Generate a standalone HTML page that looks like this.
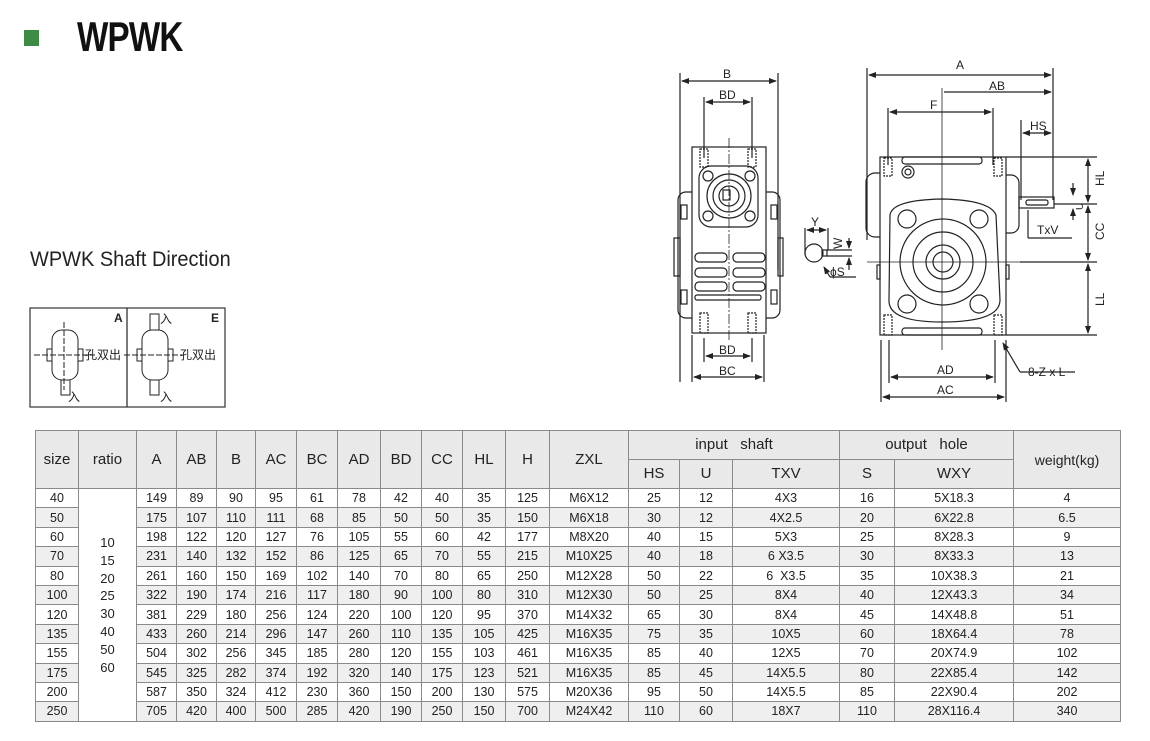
<!DOCTYPE html>
<html><head><meta charset="utf-8"><style>
body{margin:0;background:#fff;width:1150px;height:741px;position:relative;overflow:hidden;font-family:"Liberation Sans","Noto Sans CJK SC",sans-serif;color:#222}
.abs{position:absolute}
table{border-collapse:collapse;position:absolute;left:35px;top:430px;table-layout:fixed}
td{border:1px solid #8a8a8a;text-align:center;font-size:12.5px;padding:0;height:18.4px;line-height:14px;overflow:hidden;white-space:nowrap}
tr.h td{background:#e9e9e9;font-size:15px;height:28px}
tr.g td{background:#efefef}
td.r{background:#fff!important;position:relative;vertical-align:top}
</style></head><body>
<div class="abs" style="left:24px;top:30px;width:15px;height:16px;background:#3f8a45"></div>
<div class="abs" style="left:77px;top:13px;font-size:42px;font-weight:bold;letter-spacing:-1px;transform:scaleX(0.79);transform-origin:left;color:#111">WPWK</div>
<div class="abs" style="left:30px;top:248px;font-size:21px;color:#222;transform:scaleX(0.95);transform-origin:left">WPWK Shaft Direction</div>

<svg class="abs" style="left:0;top:0" width="1150" height="425" viewBox="0 0 1150 425" font-family="Liberation Sans" font-size="11" fill="none" stroke="#222" stroke-width="1.2">
<defs><marker id="a" markerWidth="8" markerHeight="6" refX="7" refY="3" orient="auto-start-reverse" markerUnits="userSpaceOnUse"><path d="M0,0L8,3L0,6z" fill="#222" stroke="none"/></marker></defs>
<rect x="30" y="308" width="195" height="99" stroke="#333"/>
<line x1="127" y1="308" x2="127" y2="407"/>
<g stroke-width="1">
<rect x="52" y="330" width="26" height="50" rx="10"/><rect x="47" y="349" width="5" height="12"/><rect x="78" y="349" width="5" height="12"/>
<rect x="61" y="380" width="9" height="15"/>
<line x1="64" y1="322" x2="64" y2="390" stroke-dasharray="6,2"/><line x1="34" y1="355" x2="95" y2="355" stroke-dasharray="6,2"/>
<rect x="142" y="330" width="26" height="50" rx="10"/><rect x="137" y="349" width="5" height="12"/><rect x="168" y="349" width="5" height="12"/>
<rect x="150" y="314" width="9" height="16"/><rect x="150" y="380" width="9" height="15"/>
<line x1="124" y1="355" x2="183" y2="355" stroke-dasharray="6,2"/>
</g>
<g fill="#222" stroke="none" font-size="12">
<text x="114" y="322" font-weight="bold" font-size="12">A</text><text x="211" y="322" font-weight="bold" font-size="12">E</text>
<text x="85" y="359" font-family="Noto Sans CJK SC">孔双出</text><text x="180" y="359" font-family="Noto Sans CJK SC">孔双出</text>
<text x="68" y="401" font-family="Noto Sans CJK SC">入</text><text x="160" y="323" font-family="Noto Sans CJK SC">入</text><text x="160" y="401" font-family="Noto Sans CJK SC">入</text>
</g>

<g>
<line x1="680" y1="73" x2="680" y2="382"/><line x1="778" y1="73" x2="778" y2="270"/>
<line x1="682" y1="81" x2="776" y2="81" marker-start="url(#a)" marker-end="url(#a)"/>
<line x1="704" y1="97" x2="704" y2="158"/><line x1="752" y1="97" x2="752" y2="158"/>
<line x1="706" y1="102" x2="750" y2="102" marker-start="url(#a)" marker-end="url(#a)"/>
<rect x="692" y="147" width="74" height="186"/>
<path d="M692,192 h-6 a8,8 0 0 0 -8,8 v110 a8,8 0 0 0 8,8 h6"/>
<path d="M766,192 h6 a8,8 0 0 1 8,8 v110 a8,8 0 0 1 -8,8 h-6"/>
<rect x="674" y="238" width="6" height="38"/><rect x="778" y="238" width="5" height="38"/>
<rect x="681" y="205" width="6" height="14"/><rect x="771" y="205" width="6" height="14"/>
<rect x="681" y="290" width="6" height="14"/><rect x="771" y="290" width="6" height="14"/>
<rect x="699" y="166" width="59" height="61" rx="12"/>
<circle cx="729" cy="196" r="22"/><circle cx="729" cy="196" r="16"/><circle cx="729" cy="196" r="10"/>
<rect x="723" y="190" width="7" height="10"/>
<circle cx="708" cy="176" r="5"/><circle cx="750" cy="176" r="5"/><circle cx="708" cy="216" r="5"/><circle cx="750" cy="216" r="5"/>
<rect x="695" y="253" width="32" height="9" rx="4"/><rect x="733" y="253" width="32" height="9" rx="4"/>
<rect x="695" y="268" width="32" height="9" rx="4"/><rect x="733" y="268" width="32" height="9" rx="4"/>
<rect x="695" y="282" width="32" height="9" rx="4"/><rect x="733" y="282" width="32" height="9" rx="4"/>
<rect x="695" y="295" width="66" height="5" rx="2"/>
<g stroke-dasharray="2,1"><rect x="700" y="149" width="8" height="18"/><rect x="748" y="149" width="8" height="18"/>
<rect x="700" y="313" width="8" height="20"/><rect x="748" y="313" width="8" height="20"/></g>
<line x1="729" y1="138" x2="729" y2="342" stroke-dasharray="10,2,2,2" stroke-width="0.8"/>
<line x1="704" y1="338" x2="704" y2="362"/><line x1="752" y1="338" x2="752" y2="362"/>
<line x1="706" y1="356" x2="750" y2="356" marker-start="url(#a)" marker-end="url(#a)"/>
<line x1="692" y1="335" x2="692" y2="382"/><line x1="764" y1="335" x2="764" y2="382"/>
<line x1="694" y1="377" x2="762" y2="377" marker-start="url(#a)" marker-end="url(#a)"/>
</g>
<g>
<circle cx="814" cy="253" r="9"/><rect x="822" y="250" width="5" height="6"/>
<line x1="805" y1="228" x2="805" y2="255"/><line x1="828" y1="228" x2="828" y2="250"/>
<line x1="807" y1="230" x2="826" y2="230" marker-start="url(#a)" marker-end="url(#a)"/>
<line x1="826" y1="250" x2="852" y2="250"/><line x1="826" y1="256" x2="852" y2="256"/>
<line x1="849" y1="238" x2="849" y2="248" marker-end="url(#a)"/><line x1="849" y1="270" x2="849" y2="258" marker-end="url(#a)"/>
<line x1="830" y1="277" x2="824" y2="267" marker-end="url(#a)"/><line x1="830" y1="277" x2="856" y2="277"/>
</g>
<g>
<line x1="867" y1="68" x2="867" y2="240"/><line x1="1053" y1="68" x2="1053" y2="200"/>
<line x1="869" y1="75" x2="1051" y2="75" marker-start="url(#a)" marker-end="url(#a)"/>
<line x1="944" y1="92" x2="1051" y2="92" marker-end="url(#a)"/>
<line x1="888" y1="108" x2="888" y2="165"/><line x1="993" y1="108" x2="993" y2="165"/>
<line x1="890" y1="112" x2="991" y2="112" marker-start="url(#a)" marker-end="url(#a)"/>
<line x1="1021" y1="120" x2="1021" y2="200"/>
<line x1="1023" y1="133" x2="1051" y2="133" marker-start="url(#a)" marker-end="url(#a)"/>
<rect x="880" y="157" width="126" height="178"/>
<path d="M880,173 h-5 a9,9 0 0 0 -9,9 v46 a9,9 0 0 0 9,9 h5"/>
<path d="M1006,175 h5 a8,8 0 0 1 8,8 v42 a8,8 0 0 1 -8,8 h-5"/>
<rect x="1019" y="197" width="35" height="11"/><rect x="1026" y="200" width="22" height="5" rx="2"/>
<rect x="902" y="157" width="80" height="7" rx="3"/><rect x="902" y="328" width="80" height="7" rx="3"/>
<circle cx="908" cy="172" r="6"/><circle cx="908" cy="172" r="3"/>
<path d="M890,215 Q892,200 942,199 Q990,200 996,215 L1000,300 Q1000,322 942,322 Q888,322 889,300 Z"/>
<circle cx="943" cy="262" r="43"/><circle cx="943" cy="262" r="30"/><circle cx="943" cy="262" r="17"/><circle cx="943" cy="262" r="10"/>
<circle cx="907" cy="219" r="9"/><circle cx="979" cy="219" r="9"/><circle cx="907" cy="304" r="9"/><circle cx="979" cy="304" r="9"/>
<rect x="877" y="265" width="3" height="14"/><rect x="1006" y="265" width="3" height="14"/>
<g stroke-dasharray="2,1"><rect x="884" y="158" width="8" height="18"/><rect x="994" y="158" width="8" height="18"/>
<rect x="884" y="315" width="8" height="20"/><rect x="994" y="315" width="8" height="20"/></g>
<line x1="942" y1="88" x2="942" y2="350" stroke-width="0.8"/>
<line x1="867" y1="262" x2="1020" y2="262" stroke-width="0.8"/>
<line x1="1006" y1="157" x2="1097" y2="157"/><line x1="1054" y1="204" x2="1097" y2="204"/>
<line x1="1020" y1="262" x2="1097" y2="262"/><line x1="1006" y1="335" x2="1097" y2="335"/>
<line x1="1088" y1="159" x2="1088" y2="202" marker-start="url(#a)" marker-end="url(#a)"/>
<line x1="1088" y1="206" x2="1088" y2="260" marker-start="url(#a)" marker-end="url(#a)"/>
<line x1="1088" y1="264" x2="1088" y2="333" marker-start="url(#a)" marker-end="url(#a)"/>
<line x1="1073" y1="183" x2="1073" y2="195" marker-end="url(#a)"/><line x1="1073" y1="220" x2="1073" y2="209" marker-end="url(#a)"/>
<line x1="1028" y1="210" x2="1028" y2="238"/><line x1="1028" y1="238" x2="1072" y2="238"/>
<line x1="889" y1="340" x2="889" y2="383"/><line x1="995" y1="340" x2="995" y2="383"/>
<line x1="881" y1="340" x2="881" y2="402"/><line x1="1006" y1="340" x2="1006" y2="402"/>
<line x1="891" y1="377" x2="993" y2="377" marker-start="url(#a)" marker-end="url(#a)"/>
<line x1="883" y1="397" x2="1004" y2="397" marker-start="url(#a)" marker-end="url(#a)"/>
<line x1="1020" y1="372" x2="1003" y2="343" marker-end="url(#a)"/><line x1="1020" y1="372" x2="1075" y2="372"/>
</g>
<g fill="#222" stroke="none" font-size="12">
<text x="723" y="78">B</text><text x="719" y="99">BD</text><text x="719" y="354">BD</text><text x="719" y="375">BC</text>
<text x="811" y="226">Y</text><text x="832" y="247" transform="rotate(-90 838 243)">W</text><text x="830" y="276">ϕS</text>
<text x="956" y="69">A</text><text x="989" y="90">AB</text><text x="930" y="109">F</text><text x="1030" y="130">HS</text>
<text x="1037" y="234">TxV</text><text x="937" y="374">AD</text><text x="937" y="394">AC</text>
<text x="1028" y="376">8-Z x L</text>
<text transform="translate(1104,186) rotate(-90)">HL</text>
<text transform="translate(1104,240) rotate(-90)">CC</text>
<text transform="translate(1104,306) rotate(-90)">LL</text>
<text transform="translate(1083,210) rotate(-90)" font-size="10">U</text>
</g>
</svg>

<table>
<colgroup><col style="width:43px"><col style="width:58px"><col style="width:40px"><col style="width:40px"><col style="width:39px"><col style="width:41px"><col style="width:41px"><col style="width:43px"><col style="width:41px"><col style="width:41px"><col style="width:43px"><col style="width:44px"><col style="width:79px"><col style="width:51px"><col style="width:53px"><col style="width:107px"><col style="width:55px"><col style="width:119px"><col style="width:107px"></colgroup>
<tr class="h"><td rowspan="2">size</td><td rowspan="2">ratio</td><td rowspan="2">A</td><td rowspan="2">AB</td><td rowspan="2">B</td><td rowspan="2">AC</td><td rowspan="2">BC</td><td rowspan="2">AD</td><td rowspan="2">BD</td><td rowspan="2">CC</td><td rowspan="2">HL</td><td rowspan="2">H</td><td rowspan="2">ZXL</td><td colspan="3">input&nbsp;&nbsp; shaft</td><td colspan="2">output&nbsp;&nbsp; hole</td><td rowspan="2" style="font-size:14px">weight(kg)</td></tr>
<tr class="h"><td>HS</td><td>U</td><td>TXV</td><td>S</td><td>WXY</td></tr>
<tr><td>40</td><td class="r" rowspan="12"><div style="position:absolute;left:0;right:0;top:45px;line-height:17.8px;font-size:13px">10<br>15<br>20<br>25<br>30<br>40<br>50<br>60</div></td><td>149</td><td>89</td><td>90</td><td>95</td><td>61</td><td>78</td><td>42</td><td>40</td><td>35</td><td>125</td><td>M6X12</td><td>25</td><td>12</td><td>4X3</td><td>16</td><td>5X18.3</td><td>4</td></tr>
<tr class="g"><td>50</td><td>175</td><td>107</td><td>110</td><td>111</td><td>68</td><td>85</td><td>50</td><td>50</td><td>35</td><td>150</td><td>M6X18</td><td>30</td><td>12</td><td>4X2.5</td><td>20</td><td>6X22.8</td><td>6.5</td></tr>
<tr><td>60</td><td>198</td><td>122</td><td>120</td><td>127</td><td>76</td><td>105</td><td>55</td><td>60</td><td>42</td><td>177</td><td>M8X20</td><td>40</td><td>15</td><td>5X3</td><td>25</td><td>8X28.3</td><td>9</td></tr>
<tr class="g"><td>70</td><td>231</td><td>140</td><td>132</td><td>152</td><td>86</td><td>125</td><td>65</td><td>70</td><td>55</td><td>215</td><td>M10X25</td><td>40</td><td>18</td><td>6 X3.5</td><td>30</td><td>8X33.3</td><td>13</td></tr>
<tr><td>80</td><td>261</td><td>160</td><td>150</td><td>169</td><td>102</td><td>140</td><td>70</td><td>80</td><td>65</td><td>250</td><td>M12X28</td><td>50</td><td>22</td><td>6&nbsp; X3.5</td><td>35</td><td>10X38.3</td><td>21</td></tr>
<tr class="g"><td>100</td><td>322</td><td>190</td><td>174</td><td>216</td><td>117</td><td>180</td><td>90</td><td>100</td><td>80</td><td>310</td><td>M12X30</td><td>50</td><td>25</td><td>8X4</td><td>40</td><td>12X43.3</td><td>34</td></tr>
<tr><td>120</td><td>381</td><td>229</td><td>180</td><td>256</td><td>124</td><td>220</td><td>100</td><td>120</td><td>95</td><td>370</td><td>M14X32</td><td>65</td><td>30</td><td>8X4</td><td>45</td><td>14X48.8</td><td>51</td></tr>
<tr class="g"><td>135</td><td>433</td><td>260</td><td>214</td><td>296</td><td>147</td><td>260</td><td>110</td><td>135</td><td>105</td><td>425</td><td>M16X35</td><td>75</td><td>35</td><td>10X5</td><td>60</td><td>18X64.4</td><td>78</td></tr>
<tr><td>155</td><td>504</td><td>302</td><td>256</td><td>345</td><td>185</td><td>280</td><td>120</td><td>155</td><td>103</td><td>461</td><td>M16X35</td><td>85</td><td>40</td><td>12X5</td><td>70</td><td>20X74.9</td><td>102</td></tr>
<tr class="g"><td>175</td><td>545</td><td>325</td><td>282</td><td>374</td><td>192</td><td>320</td><td>140</td><td>175</td><td>123</td><td>521</td><td>M16X35</td><td>85</td><td>45</td><td>14X5.5</td><td>80</td><td>22X85.4</td><td>142</td></tr>
<tr><td>200</td><td>587</td><td>350</td><td>324</td><td>412</td><td>230</td><td>360</td><td>150</td><td>200</td><td>130</td><td>575</td><td>M20X36</td><td>95</td><td>50</td><td>14X5.5</td><td>85</td><td>22X90.4</td><td>202</td></tr>
<tr class="g"><td>250</td><td>705</td><td>420</td><td>400</td><td>500</td><td>285</td><td>420</td><td>190</td><td>250</td><td>150</td><td>700</td><td>M24X42</td><td>110</td><td>60</td><td>18X7</td><td>110</td><td>28X116.4</td><td>340</td></tr>
</table>
</body></html>
